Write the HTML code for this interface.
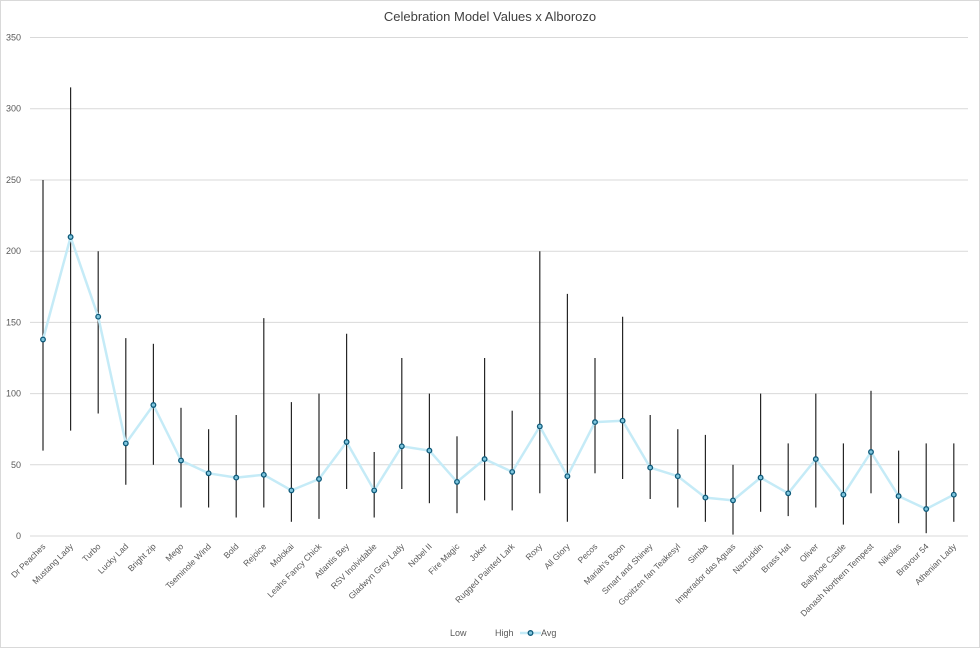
<!DOCTYPE html>
<html><head><meta charset="utf-8"><style>
html,body{margin:0;padding:0;background:#fff}
svg{display:block;font-family:"Liberation Sans",sans-serif}
</style></head><body>
<svg width="980" height="648" viewBox="0 0 980 648">
<rect x="0.5" y="0.5" width="979" height="647" fill="#fff" stroke="#d9d9d9"/>
<text x="490" y="21" text-anchor="middle" font-size="13" fill="#404040">Celebration Model Values x Alborozo</text>
<g stroke="#d9d9d9" stroke-width="1">
<line x1="30" x2="968" y1="37.5" y2="37.5"/><line x1="30" x2="968" y1="108.7" y2="108.7"/>
<line x1="30" x2="968" y1="180" y2="180"/><line x1="30" x2="968" y1="251.2" y2="251.2"/>
<line x1="30" x2="968" y1="322.4" y2="322.4"/><line x1="30" x2="968" y1="393.6" y2="393.6"/>
<line x1="30" x2="968" y1="464.8" y2="464.8"/><line x1="30" x2="968" y1="536" y2="536"/>
</g>
<g font-size="9" fill="#595959" text-anchor="end">
<text x="21" y="40.5">350</text><text x="21" y="111.7">300</text><text x="21" y="183">250</text>
<text x="21" y="254.2">200</text><text x="21" y="325.4">150</text><text x="21" y="396.6">100</text>
<text x="21" y="467.8">50</text><text x="21" y="539">0</text>
</g>
<g stroke="#262626" stroke-width="1.2">
<line x1="43" x2="43" y1="180" y2="450.6"/><line x1="70.6" x2="70.6" y1="87.4" y2="430.6"/>
<line x1="98.2" x2="98.2" y1="251.2" y2="413.5"/><line x1="125.8" x2="125.8" y1="338.1" y2="484.7"/>
<line x1="153.4" x2="153.4" y1="343.8" y2="464.8"/><line x1="181" x2="181" y1="407.8" y2="507.5"/>
<line x1="208.6" x2="208.6" y1="429.2" y2="507.5"/><line x1="236.2" x2="236.2" y1="415" y2="517.5"/>
<line x1="263.8" x2="263.8" y1="318.1" y2="507.5"/><line x1="291.4" x2="291.4" y1="402.1" y2="521.8"/>
<line x1="319" x2="319" y1="393.6" y2="518.9"/><line x1="346.6" x2="346.6" y1="333.8" y2="489"/>
<line x1="374.2" x2="374.2" y1="452" y2="517.5"/><line x1="401.8" x2="401.8" y1="358" y2="489"/>
<line x1="429.4" x2="429.4" y1="393.6" y2="503.2"/><line x1="457" x2="457" y1="436.3" y2="513.2"/>
<line x1="484.6" x2="484.6" y1="358" y2="500.4"/><line x1="512.2" x2="512.2" y1="410.7" y2="510.4"/>
<line x1="539.8" x2="539.8" y1="251.2" y2="493.3"/><line x1="567.4" x2="567.4" y1="293.9" y2="521.8"/>
<line x1="595" x2="595" y1="358" y2="473.3"/><line x1="622.6" x2="622.6" y1="316.7" y2="479"/>
<line x1="650.2" x2="650.2" y1="415" y2="499"/><line x1="677.8" x2="677.8" y1="429.2" y2="507.5"/>
<line x1="705.4" x2="705.4" y1="434.9" y2="521.8"/><line x1="733" x2="733" y1="464.8" y2="534.6"/>
<line x1="760.6" x2="760.6" y1="393.6" y2="511.8"/><line x1="788.2" x2="788.2" y1="443.4" y2="516.1"/>
<line x1="815.8" x2="815.8" y1="393.6" y2="507.5"/><line x1="843.4" x2="843.4" y1="443.4" y2="524.6"/>
<line x1="871" x2="871" y1="390.8" y2="493.3"/><line x1="898.6" x2="898.6" y1="450.6" y2="523.2"/>
<line x1="926.2" x2="926.2" y1="443.4" y2="533.2"/><line x1="953.8" x2="953.8" y1="443.4" y2="521.8"/>
</g>
<polyline fill="none" stroke="#c5ebf7" stroke-width="2.5" stroke-linejoin="round" points="43,339.5 70.6,237 98.2,316.7 125.8,443.4 153.4,405 181,460.5 208.6,473.3 236.2,477.6 263.8,474.8 291.4,490.4 319,479 346.6,442 374.2,490.4 401.8,446.3 429.4,450.6 457,481.9 484.6,459.1 512.2,471.9 539.8,426.4 567.4,476.2 595,422.1 622.6,420.7 650.2,467.6 677.8,476.2 705.4,497.6 733,500.4 760.6,477.6 788.2,493.3 815.8,459.1 843.4,494.7 871,452 898.6,496.1 926.2,509 953.8,494.7"/>
<g fill="#7fc6de" stroke="#0e5a7a" stroke-width="1.3">
<circle cx="43" cy="339.5" r="2.3"/><circle cx="70.6" cy="237" r="2.3"/><circle cx="98.2" cy="316.7" r="2.3"/><circle cx="125.8" cy="443.4" r="2.3"/><circle cx="153.4" cy="405" r="2.3"/><circle cx="181" cy="460.5" r="2.3"/><circle cx="208.6" cy="473.3" r="2.3"/><circle cx="236.2" cy="477.6" r="2.3"/><circle cx="263.8" cy="474.8" r="2.3"/><circle cx="291.4" cy="490.4" r="2.3"/><circle cx="319" cy="479" r="2.3"/><circle cx="346.6" cy="442" r="2.3"/><circle cx="374.2" cy="490.4" r="2.3"/><circle cx="401.8" cy="446.3" r="2.3"/><circle cx="429.4" cy="450.6" r="2.3"/><circle cx="457" cy="481.9" r="2.3"/><circle cx="484.6" cy="459.1" r="2.3"/><circle cx="512.2" cy="471.9" r="2.3"/><circle cx="539.8" cy="426.4" r="2.3"/><circle cx="567.4" cy="476.2" r="2.3"/><circle cx="595" cy="422.1" r="2.3"/><circle cx="622.6" cy="420.7" r="2.3"/><circle cx="650.2" cy="467.6" r="2.3"/><circle cx="677.8" cy="476.2" r="2.3"/><circle cx="705.4" cy="497.6" r="2.3"/><circle cx="733" cy="500.4" r="2.3"/><circle cx="760.6" cy="477.6" r="2.3"/><circle cx="788.2" cy="493.3" r="2.3"/><circle cx="815.8" cy="459.1" r="2.3"/><circle cx="843.4" cy="494.7" r="2.3"/><circle cx="871" cy="452" r="2.3"/><circle cx="898.6" cy="496.1" r="2.3"/><circle cx="926.2" cy="509" r="2.3"/><circle cx="953.8" cy="494.7" r="2.3"/>
</g>
<g font-size="8.5" fill="#595959" text-anchor="end">
<text transform="translate(46,547) rotate(-45)">Dr Peaches</text>
<text transform="translate(73.6,547) rotate(-45)">Mustang Lady</text>
<text transform="translate(101.2,547) rotate(-45)">Turbo</text>
<text transform="translate(128.8,547) rotate(-45)">Lucky Lad</text>
<text transform="translate(156.4,547) rotate(-45)">Bright zip</text>
<text transform="translate(184,547) rotate(-45)">Mego</text>
<text transform="translate(211.6,547) rotate(-45)">Tseminole Wind</text>
<text transform="translate(239.2,547) rotate(-45)">Bold</text>
<text transform="translate(266.8,547) rotate(-45)">Rejoice</text>
<text transform="translate(294.4,547) rotate(-45)">Molokai</text>
<text transform="translate(322,547) rotate(-45)">Leahs Fancy Chick</text>
<text transform="translate(349.6,547) rotate(-45)">Atlantis Bey</text>
<text transform="translate(377.2,547) rotate(-45)">RSV Inolvidable</text>
<text transform="translate(404.8,547) rotate(-45)">Gladwyn Grey Lady</text>
<text transform="translate(432.4,547) rotate(-45)">Nobel II</text>
<text transform="translate(460,547) rotate(-45)">Fire Magic</text>
<text transform="translate(487.6,547) rotate(-45)">Joker</text>
<text transform="translate(515.2,547) rotate(-45)">Rugged Painted Lark</text>
<text transform="translate(542.8,547) rotate(-45)">Roxy</text>
<text transform="translate(570.4,547) rotate(-45)">All Glory</text>
<text transform="translate(598,547) rotate(-45)">Pecos</text>
<text transform="translate(625.6,547) rotate(-45)">Mariah's Boon</text>
<text transform="translate(653.2,547) rotate(-45)">Smart and Shiney</text>
<text transform="translate(680.8,547) rotate(-45)">Gooitzen fan Teakesyl</text>
<text transform="translate(708.4,547) rotate(-45)">Simba</text>
<text transform="translate(736,547) rotate(-45)">Imperador das Aguas</text>
<text transform="translate(763.6,547) rotate(-45)">Nazruddin</text>
<text transform="translate(791.2,547) rotate(-45)">Brass Hat</text>
<text transform="translate(818.8,547) rotate(-45)">Oliver</text>
<text transform="translate(846.4,547) rotate(-45)">Ballynoe Castle</text>
<text transform="translate(874,547) rotate(-45)">Danash Northern Tempest</text>
<text transform="translate(901.6,547) rotate(-45)">Nikolas</text>
<text transform="translate(929.2,547) rotate(-45)">Bravour 54</text>
<text transform="translate(956.8,547) rotate(-45)">Athenian Lady</text>
</g>
<g font-size="9" fill="#595959">
<text x="450" y="636">Low</text>
<text x="495" y="636">High</text>
<line x1="520" x2="541" y1="633" y2="633" stroke="#c5ebf7" stroke-width="2.5"/>
<circle cx="530.5" cy="633" r="2.3" fill="#7fc6de" stroke="#0e5a7a" stroke-width="1.3"/>
<text x="541" y="636">Avg</text>
</g>
</svg>
</body></html>
